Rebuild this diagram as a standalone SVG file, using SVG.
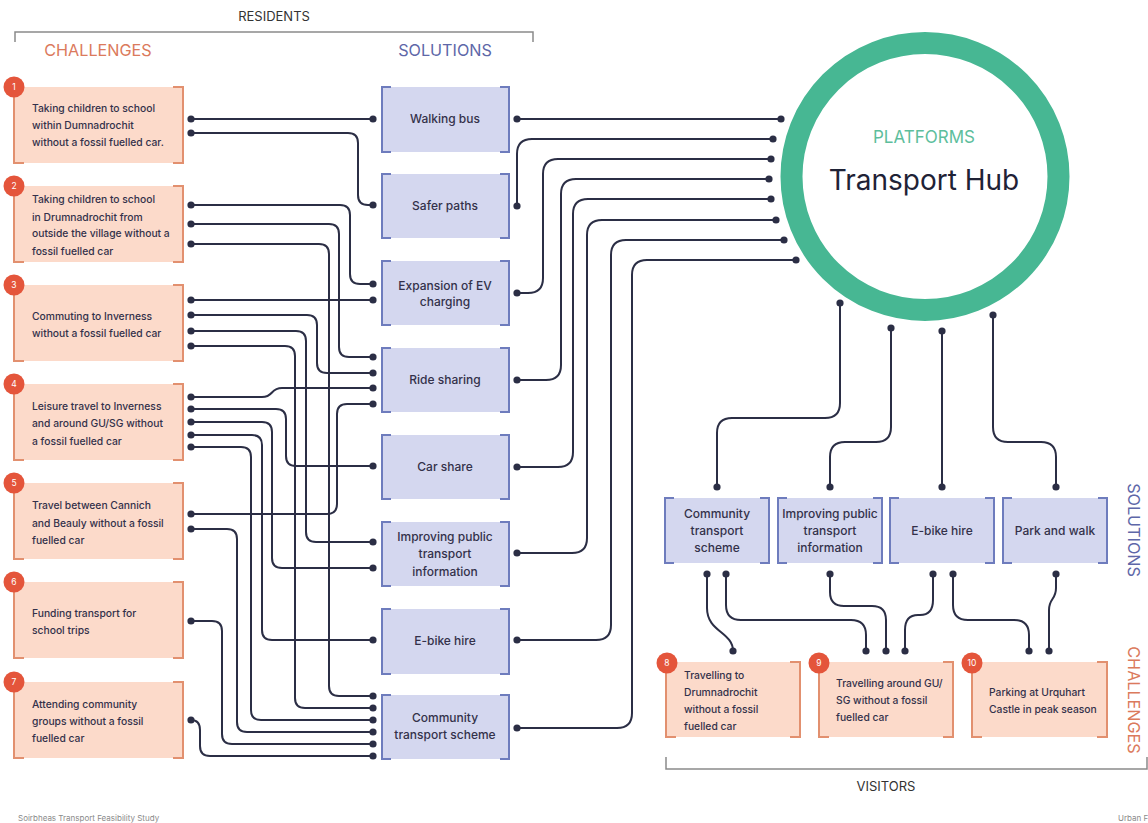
<svg xmlns="http://www.w3.org/2000/svg" width="1148" height="823" viewBox="0 0 1148 823">
<style>
text{font-family:Inter,"Liberation Sans",sans-serif;}
.ch rect{fill:#FCDACA;}
.ch path{fill:none;stroke:#E2906F;stroke-width:2;}
.so rect{fill:#D4D7EF;}
.so path{fill:none;stroke:#6E7CBD;stroke-width:2;}
.ct{font-size:10.3px;font-weight:500;fill:#33314A;}
.st{font-size:12px;font-weight:500;fill:#33314A;text-anchor:middle;}
.badge{fill:#E4553B;}
.bn{font-size:8.5px;fill:#fff;text-anchor:middle;}
.conn path{fill:none;stroke:#2B2E45;stroke-width:2;marker-start:url(#dot);marker-end:url(#dot);}
.hdr{font-size:13px;fill:#333;text-anchor:middle;}
.tch{font-size:16.2px;fill:#DB7A5C;text-anchor:middle;}
.tso{font-size:16.2px;fill:#5E67A8;text-anchor:middle;}
.brk{fill:none;stroke:#8A8A8A;stroke-width:1.5;}
.foot{font-size:8px;fill:#8A8A8A;}
</style>
<defs>
<marker id="dot" markerUnits="userSpaceOnUse" markerWidth="9" markerHeight="9" refX="4.5" refY="4.5"><circle cx="4.5" cy="4.5" r="3.6" fill="#2B2E45"/></marker>
</defs>
<rect width="1148" height="823" fill="#fff"/>

<!-- headers -->
<text class="hdr" x="274" y="21">RESIDENTS</text>
<path class="brk" d="M15,42 V32 H533 V42"/>
<text class="tch" x="98" y="56">CHALLENGES</text>
<text class="tso" x="445" y="56">SOLUTIONS</text>

<!-- connectors -->
<g id="connectors" class="conn">
<path d="M191,119 H373"/>
<path d="M191,133 H348 Q358,133 358,143 V195 Q358,205 368,205 H373"/>
<path d="M191,205 H340 Q350,205 350,215 V274 Q350,284 360,284 H373"/>
<path d="M191,300 H373"/>
<path d="M191,224 H329 Q339,224 339,234 V347 Q339,357 349,357 H373"/>
<path d="M191,244 H319 Q329,244 329,254 V686 Q329,696 339,696 H373"/>
<path d="M191,315 H307 Q317,315 317,325 V363 Q317,373 327,373 H373"/>
<path d="M191,331 H296 Q306,331 306,341 V532 Q306,542 316,542 H373"/>
<path d="M191,346 H285 Q295,346 295,356 V698 Q295,708 305,708 H373"/>
<path d="M191,397 H262 C274,397 270,388 282,388 H373"/>
<path d="M191,409 H276 Q286,409 286,419 V456 Q286,466 296,466 H373"/>
<path d="M191,422 H262 Q272,422 272,432 V558 Q272,568 282,568 H373"/>
<path d="M191,435 H252 Q262,435 262,445 V630 Q262,640 272,640 H373"/>
<path d="M191,447 H241 Q251,447 251,457 V710 Q251,720 261,720 H373"/>
<path d="M191,514 H327 Q337,514 337,504 V414 Q337,404 347,404 H373"/>
<path d="M191,529 H227 Q237,529 237,539 V722 Q237,732 247,732 H373"/>
<path d="M191,621 H212 Q222,621 222,631 V734 Q222,744 232,744 H373"/>
<path d="M191,720 Q200,720 200,730 V746 Q200,756 210,756 H373"/>

<path d="M517,119 H781"/>
<path d="M517,206 V154 Q517,139 532,139 H773"/>
<path d="M517,293 H528 Q543,293 543,278 V174 Q543,159 558,159 H771"/>
<path d="M517,380 H546 Q561,380 561,365 V194 Q561,179 576,179 H769"/>
<path d="M517,467 H558 Q573,467 573,452 V214 Q573,199 588,199 H771"/>
<path d="M517,553 H572 Q587,553 587,538 V235 Q587,220 602,220 H776"/>
<path d="M517,640 H596 Q611,640 611,625 V255 Q611,240 626,240 H784"/>
<path d="M517,728 H617 Q632,728 632,713 V275 Q632,260 647,260 H796"/>

<path d="M840,303 V403 Q840,418 825,418 H732 Q717,418 717,433 V487"/>
<path d="M891,328 V427 Q891,442 876,442 H845 Q830,442 830,457 V487"/>
<path d="M942,331 V487"/>
<path d="M993,315 V427 Q993,442 1008,442 H1041 Q1056,442 1056,457 V487"/>

<path d="M707,574 V608 C707,632 733,632 733,651"/>
<path d="M726,574 V605 Q726,620 741,620 H851 Q866,620 866,635 V651"/>
<path d="M830,574 V592 Q830,606 844,606 H872 Q886,606 886,620 V651"/>
<path d="M933,574 V600 Q933,615 920,615 H918 Q905,615 905,630 V651"/>
<path d="M953,574 V605 Q953,620 968,620 H1014 Q1029,620 1029,635 V651"/>
<path d="M1056,574 V588 C1056,600 1049,598 1049,610 V651"/>
</g>

<!-- hub -->
<g id="hub">
<circle cx="925" cy="176.5" r="133.5" fill="#fff" stroke="#47B793" stroke-width="22"/>
<text x="924" y="143" font-size="17" fill="#5DBE9C" text-anchor="middle">PLATFORMS</text>
<text x="924" y="190" font-size="28" fill="#1F2236" text-anchor="middle">Transport Hub</text>
</g>

<!-- resident challenges -->
<g id="c1" class="ch"><rect x="14" y="87" width="169" height="76"/><path d="M24,87 H14 V163 H24 M173,87 H183 V163 H173"/><circle class="badge" cx="14" cy="87" r="10.5"/><text class="bn" x="14" y="90">1</text>
<text class="ct" x="32"><tspan x="32" y="112">Taking children to school</tspan><tspan x="32" y="129">within Dumnadrochit</tspan><tspan x="32" y="146">without a fossil fuelled car.</tspan></text></g>
<g id="c2" class="ch"><rect x="14" y="186" width="169" height="76"/><path d="M24,186 H14 V262 H24 M173,186 H183 V262 H173"/><circle class="badge" cx="14" cy="186" r="10.5"/><text class="bn" x="14" y="189">2</text>
<text class="ct" x="32"><tspan x="32" y="203">Taking children to school</tspan><tspan x="32" y="221">in Drumnadrochit from</tspan><tspan x="32" y="237">outside the village without a</tspan><tspan x="32" y="255">fossil fuelled car</tspan></text></g>
<g id="c3" class="ch"><rect x="14" y="285" width="169" height="76"/><path d="M24,285 H14 V361 H24 M173,285 H183 V361 H173"/><circle class="badge" cx="14" cy="285" r="10.5"/><text class="bn" x="14" y="288">3</text>
<text class="ct" x="32"><tspan x="32" y="320">Commuting to Inverness</tspan><tspan x="32" y="337">without a fossil fuelled car</tspan></text></g>
<g id="c4" class="ch"><rect x="14" y="384" width="169" height="76"/><path d="M24,384 H14 V460 H24 M173,384 H183 V460 H173"/><circle class="badge" cx="14" cy="384" r="10.5"/><text class="bn" x="14" y="387">4</text>
<text class="ct" x="32"><tspan x="32" y="410">Leisure travel to Inverness</tspan><tspan x="32" y="427">and around GU/SG without</tspan><tspan x="32" y="445">a fossil fuelled car</tspan></text></g>
<g id="c5" class="ch"><rect x="14" y="483" width="169" height="76"/><path d="M24,483 H14 V559 H24 M173,483 H183 V559 H173"/><circle class="badge" cx="14" cy="483" r="10.5"/><text class="bn" x="14" y="486">5</text>
<text class="ct" x="32"><tspan x="32" y="509">Travel between Cannich</tspan><tspan x="32" y="527">and Beauly without a fossil</tspan><tspan x="32" y="544">fuelled car</tspan></text></g>
<g id="c6" class="ch"><rect x="14" y="582" width="169" height="76"/><path d="M24,582 H14 V658 H24 M173,582 H183 V658 H173"/><circle class="badge" cx="14" cy="582" r="10.5"/><text class="bn" x="14" y="585">6</text>
<text class="ct" x="32"><tspan x="32" y="617">Funding transport for</tspan><tspan x="32" y="634">school trips</tspan></text></g>
<g id="c7" class="ch"><rect x="14" y="682" width="169" height="76"/><path d="M24,682 H14 V758 H24 M173,682 H183 V758 H173"/><circle class="badge" cx="14" cy="682" r="10.5"/><text class="bn" x="14" y="685">7</text>
<text class="ct" x="32"><tspan x="32" y="708">Attending community</tspan><tspan x="32" y="725">groups without a fossil</tspan><tspan x="32" y="742">fuelled car</tspan></text></g>

<!-- resident solutions -->
<g id="s1" class="so"><rect x="382" y="87" width="127" height="65"/><path d="M391,87 H382 V152 H391 M500,87 H509 V152 H500"/><text class="st" x="445" y="123">Walking bus</text></g>
<g id="s2" class="so"><rect x="382" y="174" width="127" height="64"/><path d="M391,174 H382 V238 H391 M500,174 H509 V238 H500"/><text class="st" x="445" y="210">Safer paths</text></g>
<g id="s3" class="so"><rect x="382" y="261" width="127" height="64"/><path d="M391,261 H382 V325 H391 M500,261 H509 V325 H500"/><text class="st" x="445"><tspan x="445" y="290">Expansion of EV</tspan><tspan x="445" y="306">charging</tspan></text></g>
<g id="s4" class="so"><rect x="382" y="348" width="127" height="64"/><path d="M391,348 H382 V412 H391 M500,348 H509 V412 H500"/><text class="st" x="445" y="384">Ride sharing</text></g>
<g id="s5" class="so"><rect x="382" y="435" width="127" height="64"/><path d="M391,435 H382 V499 H391 M500,435 H509 V499 H500"/><text class="st" x="445" y="471">Car share</text></g>
<g id="s6" class="so"><rect x="382" y="522" width="127" height="64"/><path d="M391,522 H382 V586 H391 M500,522 H509 V586 H500"/><text class="st" x="445"><tspan x="445" y="541">Improving public</tspan><tspan x="445" y="558">transport</tspan><tspan x="445" y="576">information</tspan></text></g>
<g id="s7" class="so"><rect x="382" y="609" width="127" height="65"/><path d="M391,609 H382 V674 H391 M500,609 H509 V674 H500"/><text class="st" x="445" y="645">E-bike hire</text></g>
<g id="s8" class="so"><rect x="382" y="695" width="127" height="64"/><path d="M391,695 H382 V759 H391 M500,695 H509 V759 H500"/><text class="st" x="445"><tspan x="445" y="722">Community</tspan><tspan x="445" y="739">transport scheme</tspan></text></g>

<!-- visitor solutions -->
<g id="vs1" class="so"><rect x="665" y="498" width="104" height="65"/><path d="M674,498 H665 V563 H674 M760,498 H769 V563 H760"/><text class="st" x="717"><tspan x="717" y="518">Community</tspan><tspan x="717" y="535">transport</tspan><tspan x="717" y="552">scheme</tspan></text></g>
<g id="vs2" class="so"><rect x="778" y="498" width="104" height="65"/><path d="M787,498 H778 V563 H787 M873,498 H882 V563 H873"/><text class="st" x="830"><tspan x="830" y="518">Improving public</tspan><tspan x="830" y="535">transport</tspan><tspan x="830" y="552">information</tspan></text></g>
<g id="vs3" class="so"><rect x="890" y="498" width="104" height="65"/><path d="M899,498 H890 V563 H899 M985,498 H994 V563 H985"/><text class="st" x="942" y="535">E-bike hire</text></g>
<g id="vs4" class="so"><rect x="1003" y="498" width="104" height="65"/><path d="M1012,498 H1003 V563 H1012 M1098,498 H1107 V563 H1098"/><text class="st" x="1055" y="535">Park and walk</text></g>

<!-- visitor challenges -->
<g id="c8" class="ch"><rect x="666" y="662" width="134" height="75"/><path d="M676,662 H666 V737 H676 M790,662 H800 V737 H790"/><circle class="badge" cx="667" cy="663" r="10.5"/><text class="bn" x="667" y="666">8</text>
<text class="ct" x="684"><tspan x="684" y="679">Travelling to</tspan><tspan x="684" y="696">Drumnadrochit</tspan><tspan x="684" y="713">without a fossil</tspan><tspan x="684" y="730">fuelled car</tspan></text></g>
<g id="c9" class="ch"><rect x="819" y="662" width="134" height="75"/><path d="M829,662 H819 V737 H829 M943,662 H953 V737 H943"/><circle class="badge" cx="819" cy="663" r="10.5"/><text class="bn" x="819" y="666">9</text>
<text class="ct" x="836"><tspan x="836" y="687">Travelling around GU/</tspan><tspan x="836" y="704">SG without a fossil</tspan><tspan x="836" y="721">fuelled car</tspan></text></g>
<g id="c10" class="ch"><rect x="972" y="662" width="135" height="75"/><path d="M982,662 H972 V737 H982 M1097,662 H1107 V737 H1097"/><circle class="badge" cx="972" cy="663" r="10.5"/><text class="bn" x="972" y="666">10</text>
<text class="ct" x="989"><tspan x="989" y="696">Parking at Urquhart</tspan><tspan x="989" y="713">Castle in peak season</tspan></text></g>

<!-- side labels -->
<text class="tso" transform="translate(1128,530) rotate(90)">SOLUTIONS</text>
<text class="tch" transform="translate(1128,700) rotate(90)">CHALLENGES</text>
<path class="brk" d="M666,757 V769 H1147 V757"/>
<text class="hdr" x="886" y="791">VISITORS</text>

<text class="foot" x="18" y="821">Soirbheas Transport Feasibility Study</text>
<text class="foot" x="1118" y="821">Urban F</text>
</svg>
